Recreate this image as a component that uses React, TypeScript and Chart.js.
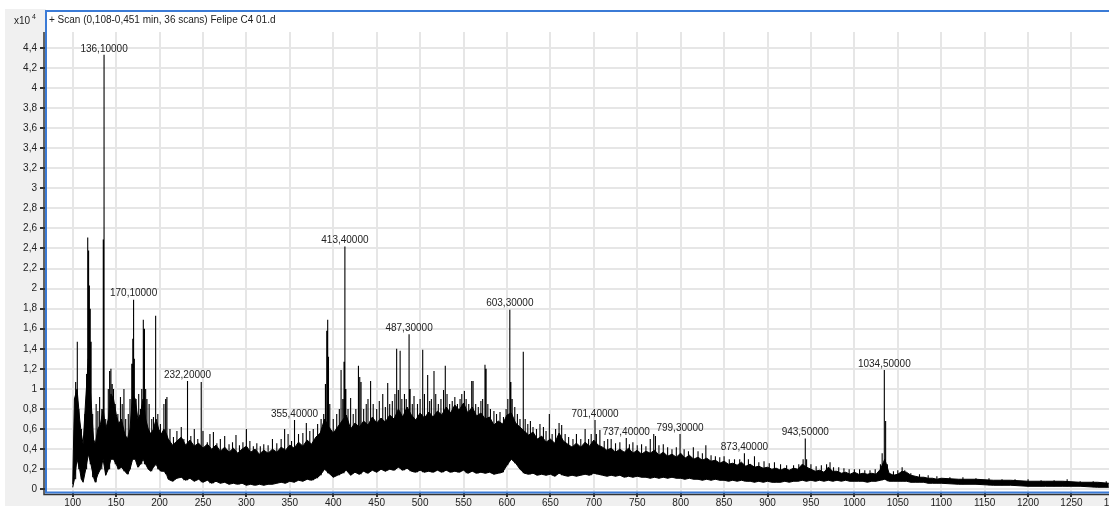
import { useEffect, useRef } from "react";
import { Chart, registerables } from "chart.js";

Chart.register(...registerables);

const titleText = "+ Scan (0,108-0,451 min, 36 scans) Felipe C4 01.d";
const yUnitBase = "x10";
const yUnitExp = "4";

const xTickValues = [100, 150, 200, 250, 300, 350, 400, 450, 500, 550, 600, 650, 700, 750, 800, 850, 900, 950, 1000, 1050, 1100, 1150, 1200, 1250, 1300];
const xTickLabels = ["100", "150", "200", "250", "300", "350", "400", "450", "500", "550", "600", "650", "700", "750", "800", "850", "900", "950", "1000", "1050", "1100", "1150", "1200", "1250", "1300"];
const yTickValues = [0, 0.2, 0.4, 0.6, 0.8, 1, 1.2, 1.4, 1.6, 1.8, 2, 2.2, 2.4, 2.6, 2.8, 3, 3.2, 3.4, 3.6, 3.8, 4, 4.2, 4.4];
const yTickLabels = ["0", "0,2", "0,4", "0,6", "0,8", "1", "1,2", "1,4", "1,6", "1,8", "2", "2,2", "2,4", "2,6", "2,8", "3", "3,2", "3,4", "3,6", "3,8", "4", "4,2", "4,4"];

// noise band of the spectrum (x10^4 counts)
const bandMz = [
  100, 102, 105, 108, 110, 112, 115, 118, 121, 124, 126, 129, 132, 135, 138, 141, 144, 147, 150, 153,
  156, 160, 163, 166, 169, 172, 175, 178, 181, 184, 187, 190, 193, 196, 199, 202, 205, 208,
  210, 215, 220, 225, 230, 235, 240, 245, 250, 255,
  260, 265, 270, 275, 280, 285, 290, 295, 300, 305,
  310, 315, 320, 325, 330, 335, 340, 345, 350, 355,
  360, 365, 370, 375, 380, 385, 390, 395, 400, 405,
  410, 415, 420, 425, 430, 435, 440, 445, 450, 455,
  460, 465, 470, 475, 480, 485, 490, 495, 500, 505,
  510, 515, 520, 525, 530, 535, 540, 545, 550, 555,
  560, 565, 570, 575, 580, 585, 590, 595, 600, 605,
  610, 615, 620, 625, 630, 635, 640, 645, 650, 655,
  660, 665, 670, 675, 680, 685, 690, 695, 700, 705,
  710, 715, 720, 725, 730, 735, 740, 745, 750, 755,
  760, 765, 770, 775, 780, 785, 790, 795, 800, 805,
  810, 815, 820, 825, 830, 835, 840, 845, 850, 855,
  860, 865, 870, 875, 880, 885, 890, 895, 900, 905,
  910, 915, 920, 925, 930, 935, 940, 945, 950, 955,
  960, 965, 970, 975, 980, 985, 990, 995, 1000, 1005,
  1010, 1015, 1020, 1025, 1030, 1035, 1040, 1045, 1050, 1055,
  1060, 1065, 1070, 1075, 1080, 1085, 1090, 1095, 1100,
  1120, 1140, 1160, 1180, 1200, 1220, 1240, 1260, 1280, 1293,
];
const bandLow = [
  0.02, 0.1, 0.3, 0.2, 0.1, 0.07, 0.2, 0.35, 0.25, 0.12, 0.07, 0.15, 0.2, 0.3, 0.14, 0.2, 0.3, 0.3, 0.25, 0.2,
  0.22, 0.18, 0.15, 0.2, 0.3, 0.3, 0.22, 0.25, 0.3, 0.25, 0.2, 0.18, 0.22, 0.25, 0.2, 0.18, 0.18, 0.15,
  0.10, 0.08, 0.11, 0.12, 0.09, 0.11, 0.08, 0.10, 0.07, 0.09,
  0.06, 0.08, 0.06, 0.07, 0.05, 0.06, 0.05, 0.06, 0.04, 0.05,
  0.04, 0.05, 0.04, 0.05, 0.05, 0.06, 0.07, 0.06, 0.08, 0.07,
  0.09, 0.08, 0.10, 0.09, 0.11, 0.14, 0.20, 0.16, 0.12, 0.14,
  0.16, 0.19, 0.14, 0.17, 0.15, 0.18, 0.16, 0.19, 0.17, 0.20,
  0.18, 0.20, 0.19, 0.22, 0.19, 0.21, 0.18, 0.17, 0.19, 0.17,
  0.18, 0.17, 0.19, 0.17, 0.19, 0.17, 0.18, 0.17, 0.19, 0.16,
  0.18, 0.16, 0.17, 0.16, 0.17, 0.15, 0.16, 0.17, 0.24, 0.30,
  0.26, 0.20, 0.16, 0.15, 0.16, 0.14, 0.15, 0.14, 0.15, 0.13,
  0.16, 0.14, 0.13, 0.14, 0.13, 0.14, 0.15, 0.14, 0.16, 0.15,
  0.14, 0.13, 0.14, 0.13, 0.14, 0.12, 0.13, 0.12, 0.13, 0.12,
  0.12, 0.11, 0.12, 0.11, 0.12, 0.11, 0.12, 0.11, 0.11, 0.10,
  0.11, 0.10, 0.10, 0.09, 0.10, 0.09, 0.10, 0.09, 0.09, 0.08,
  0.09, 0.08, 0.09, 0.08, 0.08, 0.07, 0.08, 0.07, 0.08, 0.07,
  0.07, 0.07, 0.08, 0.07, 0.08, 0.08, 0.09, 0.08, 0.09, 0.08,
  0.09, 0.08, 0.09, 0.08, 0.09, 0.08, 0.09, 0.08, 0.08, 0.08,
  0.08, 0.07, 0.08, 0.08, 0.09, 0.10, 0.08, 0.08, 0.08, 0.08,
  0.08, 0.07, 0.07, 0.07, 0.07, 0.06, 0.06, 0.06, 0.06,
  0.05, 0.05, 0.04, 0.04, 0.03, 0.03, 0.03, 0.03, 0.02, 0.02,
];
const bandHigh = [
  0.05, 0.9, 1.0, 0.7, 0.55, 0.45, 0.9, 1.3, 0.9, 0.5, 0.45, 0.6, 0.65, 0.8, 0.6, 0.7, 0.95, 0.9, 0.75, 0.65,
  0.7, 0.55, 0.5, 0.6, 0.95, 0.9, 0.7, 0.75, 0.9, 0.7, 0.6, 0.55, 0.6, 0.7, 0.6, 0.55, 0.6, 0.55,
  0.50, 0.44, 0.48, 0.52, 0.44, 0.49, 0.43, 0.46, 0.41, 0.45,
  0.40, 0.44, 0.38, 0.42, 0.37, 0.41, 0.36, 0.40, 0.43, 0.37,
  0.40, 0.35, 0.39, 0.36, 0.40, 0.37, 0.42, 0.39, 0.44, 0.41,
  0.47, 0.43, 0.49, 0.45, 0.52, 0.56, 0.70, 0.62, 0.56, 0.62,
  0.68, 0.74, 0.60, 0.66, 0.62, 0.68, 0.64, 0.72, 0.66, 0.71,
  0.67, 0.74, 0.70, 0.80, 0.72, 0.82, 0.74, 0.69, 0.76, 0.71,
  0.77, 0.72, 0.78, 0.74, 0.82, 0.76, 0.84, 0.79, 0.86, 0.76,
  0.82, 0.73, 0.76, 0.70, 0.72, 0.64, 0.68, 0.65, 0.74, 0.76,
  0.66, 0.62, 0.58, 0.54, 0.57, 0.50, 0.53, 0.47, 0.50, 0.46,
  0.56, 0.48, 0.45, 0.42, 0.46, 0.42, 0.47, 0.43, 0.49, 0.44,
  0.42, 0.39, 0.41, 0.37, 0.40, 0.37, 0.41, 0.36, 0.39, 0.35,
  0.38, 0.36, 0.39, 0.34, 0.37, 0.33, 0.35, 0.32, 0.36, 0.31,
  0.34, 0.30, 0.32, 0.29, 0.31, 0.28, 0.29, 0.26, 0.28, 0.25,
  0.26, 0.24, 0.27, 0.23, 0.25, 0.22, 0.23, 0.21, 0.22, 0.20,
  0.21, 0.19, 0.21, 0.19, 0.21, 0.20, 0.25, 0.22, 0.20, 0.18,
  0.19, 0.17, 0.22, 0.18, 0.18, 0.16, 0.17, 0.15, 0.17, 0.15,
  0.16, 0.15, 0.16, 0.15, 0.20, 0.30, 0.16, 0.14, 0.15, 0.18,
  0.17, 0.14, 0.13, 0.12, 0.12, 0.11, 0.11, 0.10, 0.11,
  0.10, 0.10, 0.09, 0.09, 0.08, 0.08, 0.08, 0.07, 0.07, 0.06,
];

// individual peaks rising above the band
const spikeMz = [103.4, 105.3, 107, 110, 114, 116, 117.3, 118.3, 119.2, 120.2, 121.2, 123, 127, 129, 131, 133.5, 135.2, 136.1, 138, 141, 142.5, 144, 145.5, 147, 149, 152, 155, 157, 159, 161, 164, 166, 168, 169.2, 170.1, 171, 173, 176, 178, 179.5, 181.3, 182.6, 184, 185.5, 188, 191, 193, 195.5, 198, 201, 205, 207, 208.5, 212,
  216, 220, 225, 228, 232.2, 236, 240, 244, 248, 250, 255, 258, 262, 266, 270, 275, 280, 284, 288, 292, 296, 300, 304, 308, 312, 316, 320, 325, 330, 335, 340, 344, 348, 352, 355.4, 360, 365, 369, 373, 377, 382,
  386, 389, 391, 392.5, 393.6, 394.5, 396, 400, 404, 407, 409, 411, 412.4, 413.4, 414.5, 417, 420, 423, 426, 429, 430.5, 432, 435, 438, 440, 443, 446, 450, 453, 457, 460, 462.7, 465, 468, 471, 473, 475, 477, 479, 482, 484, 487.3, 488.5, 491, 493,
  497, 500, 503, 505, 508.7, 511, 513, 516, 518, 521, 524, 527, 529, 531, 534, 537, 540, 543, 546, 548, 551, 553, 556, 559.4, 561, 564, 567, 570, 572, 574.7, 576, 578, 581, 585, 588, 592, 596, 599, 601, 603.3, 604.5, 606, 609, 612, 615, 618.8, 621, 624, 627, 630, 634, 638, 642, 645, 648.8, 652, 656, 660, 663,
  667, 671, 676, 680, 685, 690, 694, 697, 701.4, 703, 707, 712, 716, 720, 725, 730, 737.4, 741, 745, 750, 755, 760, 765, 769, 771, 775, 780, 785, 790, 795, 799.3, 804, 809, 814.6, 820, 825, 829, 835, 840, 845, 850, 856, 862, 868, 873.4, 878, 885, 890, 896, 902, 908, 915, 922, 930, 936, 941, 943.5, 945, 950, 956, 962, 968, 972, 976, 982, 988, 994, 1000, 1006, 1012, 1018, 1024, 1030, 1032, 1034.5, 1036, 1038, 1045, 1050, 1055, 1058, 1065, 1075, 1085, 1095, 1110, 1125, 1140, 1155, 1170, 1185, 1200, 1215, 1230, 1245, 1260, 1275, 1290];
const spikeHeight = [1.07, 1.47, 0.8, 0.6, 0.75, 1.15, 2.51, 2.38, 2.03, 1.8, 1.47, 0.75, 0.85, 0.78, 0.92, 0.8, 2.49, 4.33, 0.7, 1.0, 1.18, 1.2, 1.05, 1.0, 0.85, 0.75, 0.92, 0.85, 1.0, 0.7, 0.75, 0.9, 1.25, 1.5, 1.89, 1.3, 0.9, 0.95, 0.8, 1.0, 1.69, 1.6, 1.0, 0.9, 0.85, 0.7, 0.72, 1.73, 0.75, 0.65, 0.85, 0.9, 0.92, 0.6,
  0.52, 0.58, 0.62, 0.5, 1.08, 0.53, 0.6, 0.5, 1.07, 0.58, 0.47, 0.55, 0.57, 0.46, 0.5, 0.53, 0.45, 0.47, 0.54, 0.44, 0.47, 0.6, 0.48, 0.43, 0.46, 0.43, 0.45, 0.44, 0.5, 0.46, 0.5, 0.6, 0.55, 0.48, 0.69, 0.55, 0.56, 0.66, 0.58, 0.6, 0.65,
  0.7, 0.75, 1.05, 1.58, 1.69, 1.32, 0.85, 0.7, 0.75, 0.8, 1.19, 0.9, 1.27, 2.42, 1.0, 0.8, 0.91, 0.75, 0.8, 1.23, 1.12, 1.07, 0.8, 0.85, 0.9, 1.08, 0.85, 0.8, 0.88, 0.95, 0.82, 1.06, 0.85, 0.88, 0.95, 1.4, 0.99, 1.38, 0.9, 0.95, 0.9, 1.545, 1.0, 0.85, 0.93,
  0.85, 0.9, 1.39, 0.95, 1.14, 0.88, 0.9, 1.18, 0.95, 0.85, 0.9, 0.99, 1.23, 0.95, 0.85, 0.88, 0.92, 0.85, 0.9, 0.95, 0.98, 0.9, 0.85, 1.08, 1.08, 0.85, 0.82, 0.88, 0.9, 1.24, 1.2, 0.85, 0.8, 0.78, 0.75, 0.77, 0.72, 0.8, 0.9, 1.79, 1.07, 0.9, 0.82, 0.75, 0.7, 1.37, 0.7, 0.65, 0.68, 0.62, 0.6, 0.65, 0.62, 0.58, 0.75, 0.55, 0.6, 0.66, 0.64,
  0.55, 0.52, 0.5, 0.55, 0.5, 0.6, 0.5, 0.55, 0.69, 0.55, 0.59, 0.48, 0.5, 0.5, 0.46, 0.47, 0.51, 0.45, 0.47, 0.44, 0.45, 0.43, 0.5, 0.55, 0.53, 0.44, 0.45, 0.42, 0.4, 0.42, 0.55, 0.4, 0.38, 0.42, 0.38, 0.36, 0.44, 0.34, 0.33, 0.32, 0.33, 0.3, 0.3, 0.3, 0.36, 0.3, 0.33, 0.27, 0.28, 0.26, 0.27, 0.25, 0.24, 0.24, 0.25, 0.3, 0.505, 0.3, 0.25, 0.23, 0.24, 0.25, 0.27, 0.22, 0.22, 0.21, 0.2, 0.2, 0.2, 0.19, 0.19, 0.2, 0.25, 0.36, 1.19, 0.68, 0.25, 0.18, 0.19, 0.22, 0.19, 0.16, 0.15, 0.14, 0.13, 0.12, 0.12, 0.11, 0.11, 0.1, 0.1, 0.1, 0.09, 0.09, 0.1, 0.08, 0.08, 0.08];

// annotated peaks
const peakLabelMz = [136.1, 170.1, 232.2, 355.4, 413.4, 487.3, 603.3, 701.4, 737.4, 799.3, 873.4, 943.5, 1034.5];
const peakLabelText = ["136,10000", "170,10000", "232,20000", "355,40000", "413,40000", "487,30000", "603,30000", "701,40000", "737,40000", "799,30000", "873,40000", "943,50000", "1034,50000"];

const FONT_FAMILY = '"Liberation Sans", Arial, sans-serif';
const FONT = "10px " + FONT_FAMILY;

function nearestBandLow(mz: number): number {
  let best = 0;
  for (let i = 1; i < bandMz.length; i++) {
    if (Math.abs(bandMz[i] - mz) < Math.abs(bandMz[best] - mz)) best = i;
  }
  return bandLow[best];
}

function spikeTop(mz: number): number {
  const i = spikeMz.indexOf(mz);
  return i >= 0 ? spikeHeight[i] : 0;
}

const decorPlugin = {
  id: "decor",
  beforeDraw(chart: any) {
    const { ctx, chartArea: a, width, height } = chart;
    ctx.save();
    ctx.fillStyle = "#ffffff";
    ctx.fillRect(0, 0, width, height);
    ctx.fillStyle = "#f0f0f0";
    ctx.fillRect(5, 9, a.left - 5, height - 9);
    ctx.fillRect(5, a.bottom, width, height - a.bottom);
    ctx.fillStyle = "#ffffff";
    ctx.fillRect(a.left, 10, width - a.left, a.bottom - 10);
    ctx.restore();
  },
  afterDatasetsDraw(chart: any) {
    const { ctx } = chart;
    const xs = chart.scales.x;
    const ys = chart.scales.y;
    ctx.save();
    ctx.font = FONT;
    ctx.fillStyle = "#222222";
    ctx.textAlign = "center";
    ctx.textBaseline = "bottom";
    peakLabelMz.forEach((mz, i) => {
      const px = xs.getPixelForValue(mz);
      const py = ys.getPixelForValue(spikeTop(mz));
      ctx.fillText(peakLabelText[i], px, py - 1);
    });
    ctx.restore();
  },
  afterDraw(chart: any) {
    const { ctx, chartArea: a, width } = chart;
    ctx.save();
    ctx.strokeStyle = "#333333";
    ctx.lineWidth = 1.5;
    ctx.beginPath();
    ctx.moveTo(a.left - 2, a.top);
    ctx.lineTo(a.left - 2, a.bottom + 2.5);
    ctx.lineTo(width, a.bottom + 2.5);
    ctx.stroke();
    ctx.strokeStyle = "#3b7bd6";
    ctx.lineWidth = 2;
    ctx.beginPath();
    ctx.moveTo(width, 11);
    ctx.lineTo(a.left, 11);
    ctx.lineTo(a.left, a.bottom + 0.5);
    ctx.lineTo(width, a.bottom + 0.5);
    ctx.stroke();
    ctx.fillStyle = "#222222";
    ctx.font = FONT;
    ctx.textBaseline = "middle";
    ctx.textAlign = "left";
    ctx.fillText(titleText, a.left + 3, 20);
    ctx.textAlign = "right";
    ctx.fillText(yUnitBase, 30, 21);
    ctx.font = "7px " + FONT_FAMILY;
    ctx.textAlign = "left";
    ctx.fillText(yUnitExp, 32, 17);
    ctx.restore();
  },
};

export default function App() {
  const ref = useRef<HTMLCanvasElement | null>(null);

  useEffect(() => {
    if (!ref.current) return;
    const lowData = bandMz.map((m, i) => ({ x: m, y: bandLow[i] }));
    const highData = bandMz.map((m, i) => ({ x: m, y: bandHigh[i] }));
    const spikeData: any[] = [];
    spikeMz.forEach((m, i) => {
      const h = spikeHeight[i];
      spikeData.push({ x: m, y: Math.min(nearestBandLow(m), h) });
      spikeData.push({ x: m, y: h });
      spikeData.push({ x: m, y: null });
    });

    const chart = new Chart(ref.current, {
      type: "line",
      data: {
        datasets: [
          { data: lowData, borderColor: "#000", borderWidth: 1, pointRadius: 0, fill: false, tension: 0 },
          { data: highData, borderColor: "#000", borderWidth: 1, pointRadius: 0, fill: "-1", backgroundColor: "#000", tension: 0 },
          { data: spikeData, borderColor: "#000", borderWidth: 1.1, pointRadius: 0, fill: false, spanGaps: false, tension: 0 },
        ],
      },
      options: {
        animation: false,
        responsive: false,
        events: [],
        layout: { padding: { left: 0, right: 10, top: 32, bottom: 0 } },
        plugins: { legend: { display: false }, tooltip: { enabled: false }, title: { display: false } },
        scales: {
          x: {
            type: "linear",
            min: 69.26,
            max: 1340.4,
            afterBuildTicks: (s: any) => { s.ticks = xTickValues.map((v) => ({ value: v })); },
            afterFit: (s: any) => { s.height = 14; },
            ticks: {
              autoSkip: false,
              maxRotation: 0,
              padding: 0,
              color: "#222",
              font: { family: FONT_FAMILY, size: 10 },
              callback: (v: any) => xTickLabels[xTickValues.indexOf(Number(v))] ?? "",
            },
            grid: { color: "#e6e6e6", lineWidth: 2, tickColor: "#333", tickLength: 5 },
            border: { display: false },
          },
          y: {
            type: "linear",
            min: -0.027,
            max: 4.557,
            afterBuildTicks: (s: any) => { s.ticks = yTickValues.map((v) => ({ value: v })); },
            afterFit: (s: any) => { s.width = 46; },
            ticks: {
              autoSkip: false,
              padding: 3,
              color: "#222",
              font: { family: FONT_FAMILY, size: 10 },
              callback: (v: any) => {
                const idx = yTickValues.findIndex((t) => Math.abs(t - Number(v)) < 1e-6);
                return idx >= 0 ? yTickLabels[idx] : "";
              },
            },
            grid: { color: "#e6e6e6", lineWidth: 2, tickColor: "#333", tickLength: 6 },
            border: { display: false },
          },
        },
      },
      plugins: [decorPlugin],
    });
    return () => chart.destroy();
  }, []);

  return (
    <div style={{ position: "fixed", left: 0, top: 0, width: 1109, height: 506, overflow: "hidden", background: "#fff" }}>
      <canvas ref={ref} width={1160} height={506} style={{ display: "block", width: 1160, height: 506 }} />
    </div>
  );
}
